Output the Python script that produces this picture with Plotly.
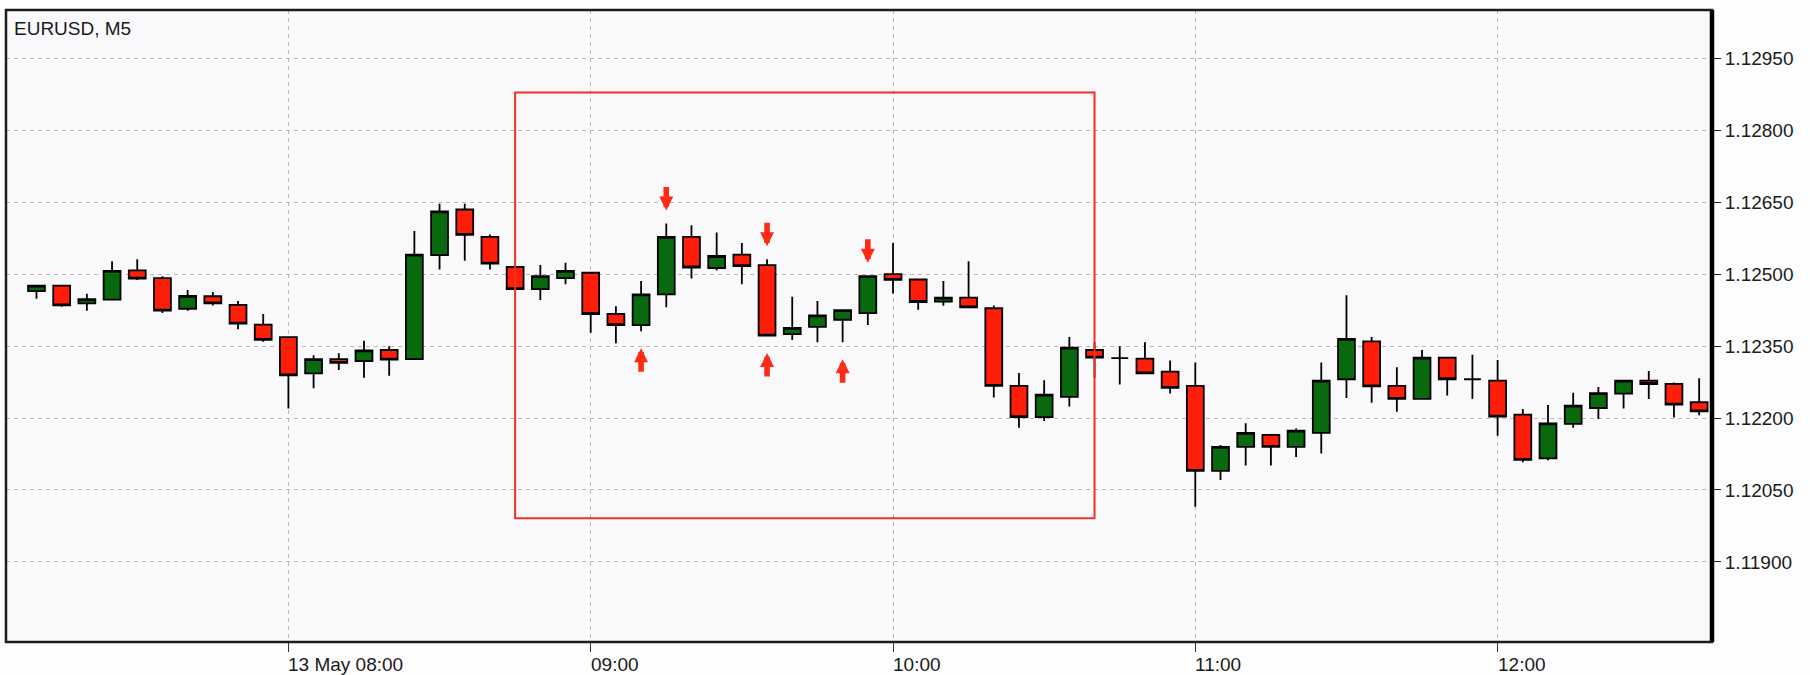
import pandas as pd
import plotly.graph_objects as go

# ---------------- data ----------------
symbol_label = "EURUSD, M5"
first_bar = "2019-05-13 07:10"
bar_minutes = 5

opens = [1.12465, 1.12476, 1.12439, 1.12447, 1.12508, 1.12492, 1.12428, 1.12454, 1.12436, 1.12395,
         1.12369, 1.12293, 1.12323, 1.12319, 1.12342, 1.12323, 1.12540, 1.12635, 1.12578, 1.12515,
         1.12469, 1.12492, 1.12503, 1.12417, 1.12394, 1.12458, 1.12578, 1.12513, 1.12541, 1.12519,
         1.12375, 1.12390, 1.12405, 1.12419, 1.12500, 1.12489, 1.12443, 1.12451, 1.12429, 1.12267,
         1.12202, 1.12244, 1.12342, 1.12325, 1.12324, 1.12297, 1.12267, 1.12090, 1.12140, 1.12165,
         1.12140, 1.12169, 1.12281, 1.12360, 1.12267, 1.12240, 1.12326, 1.12281, 1.12278, 1.12207,
         1.12116, 1.12188, 1.12221, 1.12251, 1.12278, 1.12271, 1.12233]
highs = [1.12477, 1.12477, 1.12459, 1.12527, 1.12531, 1.12496, 1.12467, 1.12463, 1.12444, 1.12417,
         1.12370, 1.12331, 1.12335, 1.12361, 1.12350, 1.12590, 1.12647, 1.12647, 1.12583, 1.12516,
         1.12519, 1.12524, 1.12504, 1.12433, 1.12486, 1.12606, 1.12602, 1.12587, 1.12565, 1.12531,
         1.12453, 1.12444, 1.12426, 1.12497, 1.12565, 1.12490, 1.12486, 1.12527, 1.12435, 1.12294,
         1.12279, 1.12369, 1.12358, 1.12350, 1.12358, 1.12320, 1.12316, 1.12144, 1.12189, 1.12166,
         1.12178, 1.12316, 1.12456, 1.12369, 1.12306, 1.12342, 1.12327, 1.12332, 1.12321, 1.12219,
         1.12227, 1.12253, 1.12265, 1.12279, 1.12298, 1.12274, 1.12283]
lows = [1.12449, 1.12432, 1.12424, 1.12446, 1.12488, 1.12419, 1.12424, 1.12435, 1.12385, 1.12359,
        1.12220, 1.12262, 1.12300, 1.12284, 1.12288, 1.12322, 1.12510, 1.12528, 1.12510, 1.12468,
        1.12446, 1.12479, 1.12378, 1.12356, 1.12381, 1.12431, 1.12491, 1.12508, 1.12479, 1.12371,
        1.12363, 1.12358, 1.12358, 1.12394, 1.12460, 1.12426, 1.12434, 1.12430, 1.12243, 1.12180,
        1.12194, 1.12224, 1.12284, 1.12270, 1.12292, 1.12251, 1.12015, 1.12071, 1.12101, 1.12101,
        1.12119, 1.12126, 1.12242, 1.12232, 1.12213, 1.12239, 1.12247, 1.12240, 1.12163, 1.12108,
        1.12112, 1.12180, 1.12198, 1.12220, 1.12240, 1.12201, 1.12206]
closes = [1.12476, 1.12435, 1.12448, 1.12507, 1.12491, 1.12424, 1.12455, 1.12439, 1.12397, 1.12363,
          1.12289, 1.12323, 1.12315, 1.12341, 1.12322, 1.12541, 1.12631, 1.12582, 1.12522, 1.12469,
          1.12496, 1.12507, 1.12417, 1.12394, 1.12458, 1.12578, 1.12514, 1.12538, 1.12517, 1.12372,
          1.12388, 1.12414, 1.12425, 1.12496, 1.12488, 1.12442, 1.12451, 1.12431, 1.12267, 1.12202,
          1.12249, 1.12347, 1.12326, 1.12325, 1.12293, 1.12263, 1.12090, 1.12140, 1.12169, 1.12140,
          1.12174, 1.12278, 1.12365, 1.12266, 1.12240, 1.12326, 1.12281, 1.12281, 1.12203, 1.12113,
          1.12189, 1.12226, 1.12252, 1.12278, 1.12271, 1.12228, 1.12214]

y_tick_values = [1.11900, 1.12050, 1.12200, 1.12350, 1.12500, 1.12650, 1.12800, 1.12950]
x_tick_times = ["2019-05-13 08:00", "2019-05-13 09:00", "2019-05-13 10:00",
                "2019-05-13 11:00", "2019-05-13 12:00"]
x_tick_labels = ["13 May 08:00", "09:00", "10:00", "11:00", "12:00"]

# signal arrows (bar index)
down_arrow_bars = [25, 29, 33]
up_arrow_bars = [24, 29, 32]

# highlighted window: from bar to bar, price bounds
box_bars = [19, 42]
box_prices = [1.11991, 1.12879]

# ---------------- styling ----------------
GREEN = "#08690f"
RED = "#ff1e0a"
ARROW_RED = "#ff2a14"
GRID = "#b9b9b9"
FONT = "Liberation Sans, Arial, sans-serif"
TXT = "#1a1a1a"

times = pd.date_range(first_bar, periods=len(opens), freq=f"{bar_minutes}min")
step = pd.Timedelta(minutes=bar_minutes)

fig = go.Figure(go.Candlestick(
    x=times, open=opens, high=highs, low=lows, close=closes,
    increasing=dict(fillcolor=GREEN, line=dict(color="#000000", width=1.8)),
    decreasing=dict(fillcolor=RED, line=dict(color="#000000", width=1.8)),
    whiskerwidth=0, showlegend=False,
))

annotations = []
# title
annotations.append(dict(text=symbol_label, xref="paper", yref="paper", x=0, y=1,
                        xanchor="left", yanchor="top", xshift=6, yshift=-6,
                        showarrow=False, font=dict(family=FONT, size=19, color=TXT)))
# x tick labels, left-aligned at the tick
for t, lab in zip(x_tick_times, x_tick_labels):
    annotations.append(dict(text=lab, xref="x", yref="paper", x=t, y=0,
                            xanchor="left", yanchor="top", xshift=-2, yshift=-10,
                            showarrow=False, font=dict(family=FONT, size=19, color=TXT)))
# arrows
for i in down_arrow_bars:
    annotations.append(dict(text="", x=times[i], y=highs[i], xref="x", yref="y",
                            showarrow=True, arrowhead=2, arrowsize=0.5, arrowwidth=5.6,
                            arrowcolor=ARROW_RED, ax=0, ay=-25, yshift=13))
for i in up_arrow_bars:
    annotations.append(dict(text="", x=times[i], y=lows[i], xref="x", yref="y",
                            showarrow=True, arrowhead=2, arrowsize=0.5, arrowwidth=5.6,
                            arrowcolor=ARROW_RED, ax=0, ay=25, yshift=-17))

shapes = [
    dict(type="rect", xref="x", yref="y", x0=times[box_bars[0]], x1=times[box_bars[1]],
         y0=box_prices[0], y1=box_prices[1], line=dict(color="#ee3322", width=2)),
    dict(type="rect", xref="paper", yref="paper", x0=0, x1=1, y0=0, y1=1,
         line=dict(color="#1c1c1c", width=2.5)),
    dict(type="line", xref="paper", yref="paper", x0=1, x1=1, y0=0, y1=1,
         line=dict(color="#000000", width=4.5)),
]

fig.update_layout(
    width=1810, height=675,
    margin=dict(l=6, r=98, t=10, b=33, pad=0),
    paper_bgcolor="#fdfdfe", plot_bgcolor="#f9f9fc",
    boxgap=0.33, boxgroupgap=0, showlegend=False,
    font=dict(family=FONT, size=19, color=TXT),
    annotations=annotations, shapes=shapes,
)
fig.update_xaxes(
    type="date", range=[times[0] - 1.21 * step, times[-1] + 0.51 * step],
    rangeslider_visible=False, tickvals=x_tick_times, showticklabels=False,
    ticks="outside", ticklen=9, tickwidth=1, tickcolor="#333333",
    showgrid=True, gridcolor=GRID, gridwidth=1, griddash="4px,4px",
    zeroline=False, showline=False,
)
fig.update_yaxes(
    side="right", range=[1.11733, 1.13051], tickvals=y_tick_values, tickformat=".5f",
    ticks="outside", ticklen=8, tickwidth=1, tickcolor="#222222",
    showgrid=True, gridcolor=GRID, gridwidth=1, griddash="4px,4px",
    zeroline=False, showline=False, tickfont=dict(family=FONT, size=19, color=TXT),
)

fig.write_html("out.html", config={"displayModeBar": False},
               post_script="document.body.style.margin='0px';document.body.style.overflow='hidden';")
